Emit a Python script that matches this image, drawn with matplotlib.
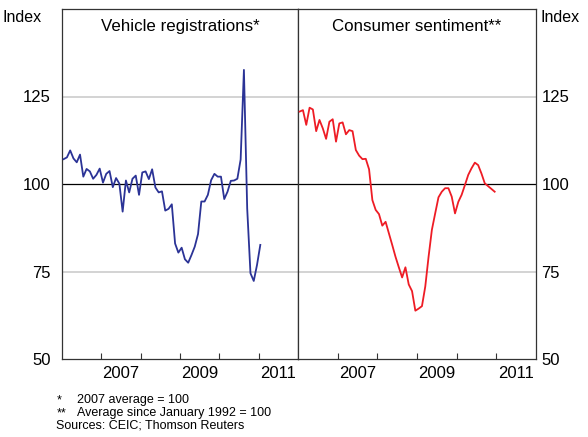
import numpy as np
import matplotlib
matplotlib.use("Agg")
import matplotlib.pyplot as plt

plt.rcParams['font.family'] = ['Liberation Sans', 'DejaVu Sans']

# monthly data, Jan 2006 onwards
vehicle_regs = [107.1, 107.6, 109.6, 107.3, 106.2, 108.4, 102.1, 104.3, 103.6, 101.5, 102.6, 104.4,
                100.4, 102.9, 103.7, 99.1, 101.7, 100.1, 92.1, 101.0, 97.6, 101.5, 102.4, 96.9,
                103.3, 103.6, 101.4, 104.2, 99.0, 97.6, 97.9, 92.4, 92.9, 94.2, 83.0, 80.4,
                81.8, 78.5, 77.5, 79.7, 82.1, 85.7, 95.0, 95.0, 96.9, 101.1, 102.9, 102.1,
                102.1, 95.7, 97.8, 100.9, 101.0, 101.5, 107.0, 132.6, 93.0, 74.5, 72.3, 76.9,
                82.6]
consumer_sent = [120.7, 121.1, 116.9, 121.8, 121.3, 115.1, 118.3, 115.9, 112.9, 117.8, 118.5, 112.1,
                 117.3, 117.6, 114.2, 115.4, 115.1, 109.7, 108.1, 107.1, 107.2, 104.2, 95.4, 92.6,
                 91.4, 88.1, 89.2, 85.9, 82.6, 79.2, 76.2, 73.3, 76.2, 71.3, 69.4, 63.8,
                 64.4, 65.1, 70.7, 79.2, 86.9, 91.6, 96.2, 97.8, 98.8, 98.8, 96.4, 91.6,
                 94.9, 96.9, 99.7, 102.6, 104.5, 106.1, 105.4, 103.0, 100.2, 99.4, 98.6, 97.8]
year_labels = ['2007', '2009', '2011']
y_labels = ['50', '75', '100', '125']

x_veh = 2006 + (np.arange(len(vehicle_regs)) + 0.5) / 12
x_con = 2006 + (np.arange(len(consumer_sent)) + 0.5) / 12

fig = plt.figure(figsize=(5.88, 4.37), dpi=100)
W, H = 588, 437
axl = fig.add_axes([62 / W, 1 - 359 / H, 236 / W, 350 / H])
axr = fig.add_axes([298 / W, 1 - 359 / H, 238 / W, 350 / H])

for ax, x, y, col, title in [(axl, x_veh, vehicle_regs, '#2b3396', 'Vehicle registrations*'),
                             (axr, x_con, consumer_sent, '#ee1c25', 'Consumer sentiment**')]:
    ax.set_xlim(2006, 2012)
    ax.set_ylim(50, 150)
    for g in (75, 125):
        ax.axhline(g, color='#c8c8c8', lw=1.1, zorder=1)
    ax.axhline(100, color='black', lw=0.9, zorder=2)
    ax.plot(x, y, color=col, lw=1.3, zorder=3)
    ax.set_xticks([2007, 2008, 2009, 2010, 2011])
    ax.set_xticks([2007.5, 2009.5, 2011.5], minor=True)
    ax.set_xticklabels(['', '', '', '', ''])
    ax.set_xticklabels(year_labels, minor=True, fontsize=12)
    ax.tick_params(axis='x', which='major', direction='in', length=4, width=0.8, color='#333333')
    ax.tick_params(axis='x', which='minor', length=0, pad=5)
    ax.set_yticks([50, 75, 100, 125])
    ax.tick_params(axis='y', length=0)
    for s in ax.spines.values():
        s.set_color('#333333')
        s.set_linewidth(0.9)
    ax.text(0.5, 0.95, title, transform=ax.transAxes, ha='center', va='center', fontsize=12.2)

axl.set_yticklabels(y_labels, fontsize=12)
axl.tick_params(axis='y', pad=8)
axr.set_yticklabels([])
axr2 = axr.twinx()
axr2.set_ylim(50, 150)
axr2.set_yticks([50, 75, 100, 125])
axr2.set_yticklabels(y_labels, fontsize=12)
axr2.tick_params(axis='y', length=0, pad=4)
for s in axr2.spines.values():
    s.set_visible(False)

fig.text(2 / W, 1 - 17 / H, 'Index', ha='left', va='center', fontsize=11.5)
fig.text(541 / W, 1 - 17 / H, 'Index', ha='left', va='center', fontsize=11.5)

fn = 9
fig.text(57 / W, 1 - 400 / H, '*', ha='left', va='center', fontsize=fn)
fig.text(77 / W, 1 - 400 / H, '2007 average = 100', ha='left', va='center', fontsize=fn)
fig.text(57 / W, 1 - 413 / H, '**', ha='left', va='center', fontsize=fn)
fig.text(77 / W, 1 - 413 / H, 'Average since January 1992 = 100', ha='left', va='center', fontsize=fn)
fig.text(56 / W, 1 - 426 / H, 'Sources: CEIC; Thomson Reuters', ha='left', va='center', fontsize=fn)

fig.savefig('out.png', dpi=100)
